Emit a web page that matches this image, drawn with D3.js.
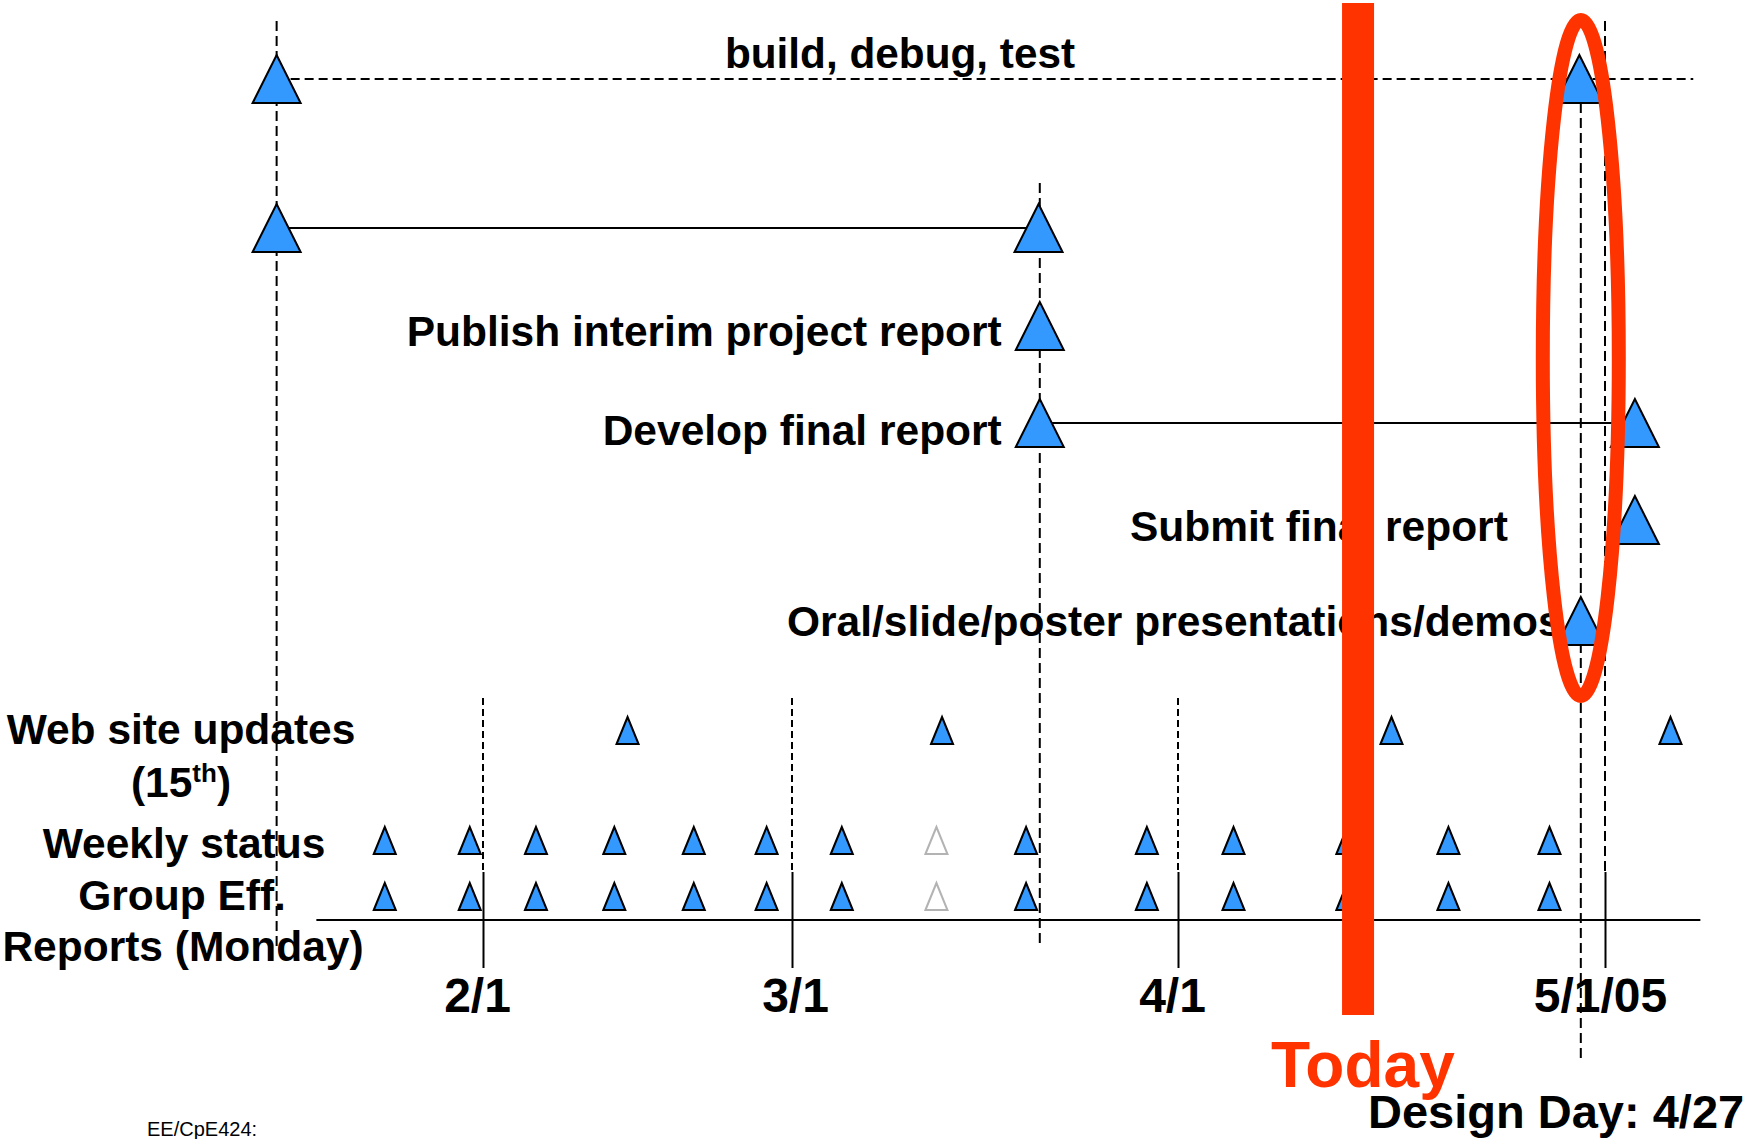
<!DOCTYPE html>
<html><head><meta charset="utf-8">
<script src="https://cdn.jsdelivr.net/npm/d3@7"></script>
<style>html,body{margin:0;padding:0;background:#fff;} svg{display:block;font-family:"Liberation Sans",Arial,Helvetica,sans-serif;}</style>
</head><body><svg id="chart" width="1750" height="1139"></svg>
<script>
// ---------- DATA (day of year 2005) ----------
const tickDays = [32, 60, 91, 121];
const tickLabels = ["2/1", "3/1", "4/1", "5/1/05"];
const projectStartDay = 13.3;
const buildDebugTest = [13.3, 119.2];      // start, end (dashed task)
const buildLineEnd = 127.2;
const phaseTwo = [13.3, 79.8];              // solid task, unlabeled
const publishInterimDay = [79.9];
const developFinalReport = [79.9, 123.1];
const submitFinalDay = [123.1];
const presentationsDay = [119.3];
const webUpdateDays = [45.1, 72.05, 106.0, 125.6];
const weeklyStatusDays = [23.1, 30.8, 36.8, 43.9, 51.1, 57.7, 64.0, 71.6, 78.8, 88.5, 94.9, 102.9, 110.0, 117.1];
const weeklyStatusDone = [1, 1, 1, 1, 1, 1, 1, 0, 1, 1, 1, 1, 1, 1];
const groupEffDays = [23.1, 30.8, 36.8, 43.9, 51.1, 57.7, 64.0, 71.6, 78.8, 88.5, 94.9, 102.9, 110.0, 117.1];
const groupEffDone = [1, 1, 1, 1, 1, 1, 1, 0, 1, 1, 1, 1, 1, 1];
const todayDay = 103.65;
const designDay = 119.3;
const axisExtent = [16.9, 127.7];
const taskLabels = ["build, debug, test", "Publish interim project report", "Develop final report",
  "Submit final report", "Oral/slide/poster presentations/demos"];
const rowLabels = ["Web site updates", "Weekly status", "Group Eff.", "Reports (Monday)"];

// ---------- LAYOUT ----------
const BLUE = "#3399FF", RED = "#FF3300";
const svg = d3.select("#chart");
const x = d3.scaleLinear().domain(tickDays).range([483, 792, 1178, 1605]);
const rowBase = {build: 103, phase2: 252, publish: 350, develop: 447, submit: 544, oral: 645,
  web: 744, weekly: 854, group: 910};
const BIG = {w: 48, h: 48}, SMALL = {w: 22, h: 27};
const tri = (cx, by, s) => `M${cx - s.w/2},${by}L${cx},${by - s.h}L${cx + s.w/2},${by}Z`;
const axisY = 920;
const tickShift = [-6, 3, -6, -5];

// ---------- TEXT ----------
const T = svg.append("g").attr("font-weight", "bold").attr("fill", "#000");
T.append("text").attr("x", 900).attr("y", 68).attr("text-anchor", "middle").attr("font-size", 42.3).text(taskLabels[0]);
T.append("text").attr("x", x(publishInterimDay[0]) - 38).attr("y", 346).attr("text-anchor", "end").attr("font-size", 42.5).text(taskLabels[1]);
T.append("text").attr("x", x(developFinalReport[0]) - 38).attr("y", 445).attr("text-anchor", "end").attr("font-size", 42.5).text(taskLabels[2]);
T.append("text").attr("x", 1130).attr("y", 541).attr("font-size", 42.5).text(taskLabels[3]);
T.append("text").attr("x", 787).attr("y", 636).attr("font-size", 42.5).text(taskLabels[4]);

const LX = 181;
T.append("text").attr("x", LX).attr("y", 744).attr("text-anchor", "middle").attr("font-size", 42.5).text(rowLabels[0]);
const t15 = T.append("text").attr("x", LX).attr("y", 797).attr("text-anchor", "middle").attr("font-size", 42.5);
t15.append("tspan").text("(15");
t15.append("tspan").attr("font-size", 26).attr("dy", -15).text("th");
t15.append("tspan").attr("dy", 15).text(")");
T.append("text").attr("x", LX + 3).attr("y", 858).attr("text-anchor", "middle").attr("font-size", 42.5).text(rowLabels[1]);
T.append("text").attr("x", LX + 1).attr("y", 910).attr("text-anchor", "middle").attr("font-size", 42.5).text(rowLabels[2]);
T.append("text").attr("x", LX + 2).attr("y", 961).attr("text-anchor", "middle").attr("font-size", 42.5).text(rowLabels[3]);

svg.append("text").attr("x", 147).attr("y", 1136).attr("font-size", 20).attr("fill", "#000").text("EE/CpE424:");

// ---------- GUIDE LINES ----------
const G = svg.append("g").attr("stroke", "#000").attr("stroke-width", 2).attr("fill", "none");
const vdash = (d, y1, y2, dash) => G.append("line").attr("x1", x(d)).attr("x2", x(d)).attr("y1", y1).attr("y2", y2).attr("stroke-dasharray", dash);
vdash(projectStartDay, 21, 946, "10,5");
vdash(tickDays[3], 21, 872, "10,5");
vdash(phaseTwo[1] + 0.1, 183, 945, "10,5");
vdash(designDay, 103, 1060, "10,5");
tickDays.slice(0, 3).forEach(d => vdash(d, 698, 872, "7,4"));

// axis (solid ticks + labels)
const axis = d3.axisBottom(x).tickValues(tickDays).tickFormat((d, i) => tickLabels[i]).tickSize(96).tickPadding(10);
const ax = svg.append("g").attr("transform", `translate(0,872)`).call(axis);
ax.select(".domain").remove();
ax.selectAll(".tick line").attr("stroke", "#000").attr("stroke-width", 2);
ax.selectAll(".tick text").attr("font-size", 48).attr("font-weight", "bold").attr("fill", "#000")
  .attr("dx", (d, i) => tickShift[i]).attr("font-family", '"Liberation Sans",Arial,sans-serif');
G.append("line").attr("x1", x(axisExtent[0])).attr("x2", x(axisExtent[1])).attr("y1", axisY).attr("y2", axisY);

// task lines
G.append("line").attr("x1", x(buildDebugTest[0])).attr("x2", x(buildLineEnd))
  .attr("y1", rowBase.build - BIG.h/2).attr("y2", rowBase.build - BIG.h/2).attr("stroke-dasharray", "9,5");
G.append("line").attr("x1", x(phaseTwo[0])).attr("x2", x(phaseTwo[1]))
  .attr("y1", rowBase.phase2 - BIG.h/2).attr("y2", rowBase.phase2 - BIG.h/2);
G.append("line").attr("x1", x(developFinalReport[0])).attr("x2", x(developFinalReport[1]))
  .attr("y1", rowBase.develop - BIG.h/2).attr("y2", rowBase.develop - BIG.h/2);

// ---------- TRIANGLES ----------
const M = svg.append("g").attr("stroke", "#000").attr("stroke-width", 2).attr("stroke-linejoin", "miter");
function marks(days, row, size, done) {
  M.selectAll(null).data(days).enter().append("path")
    .attr("d", d => tri(x(d), rowBase[row], size))
    .attr("fill", (d, i) => (done && !done[i]) ? "#fff" : BLUE)
    .attr("stroke", (d, i) => (done && !done[i]) ? "#b3b3b3" : "#000");
}
marks(buildDebugTest, "build", BIG);
marks(phaseTwo, "phase2", BIG);
marks(publishInterimDay, "publish", BIG);
marks(developFinalReport, "develop", BIG);
marks(submitFinalDay, "submit", BIG);
marks(presentationsDay, "oral", BIG);
marks(webUpdateDays, "web", SMALL);
marks(weeklyStatusDays, "weekly", SMALL, weeklyStatusDone);
marks(groupEffDays, "group", SMALL, groupEffDone);

// ---------- TODAY / DESIGN DAY ----------
svg.append("rect").attr("x", x(todayDay) - 16).attr("y", 3).attr("width", 32).attr("height", 1012).attr("fill", RED);
svg.append("ellipse").attr("cx", x(designDay)).attr("cy", 358).attr("rx", 38).attr("ry", 338)
  .attr("fill", "none").attr("stroke", RED).attr("stroke-width", 14);
svg.append("text").attr("x", 1271).attr("y", 1087).attr("font-size", 64).attr("font-weight", "bold").attr("fill", RED).text("Today");
svg.append("text").attr("x", 1368).attr("y", 1128).attr("font-size", 47).attr("font-weight", "bold").attr("fill", "#000").text("Design Day: 4/27");
</script></body></html>
